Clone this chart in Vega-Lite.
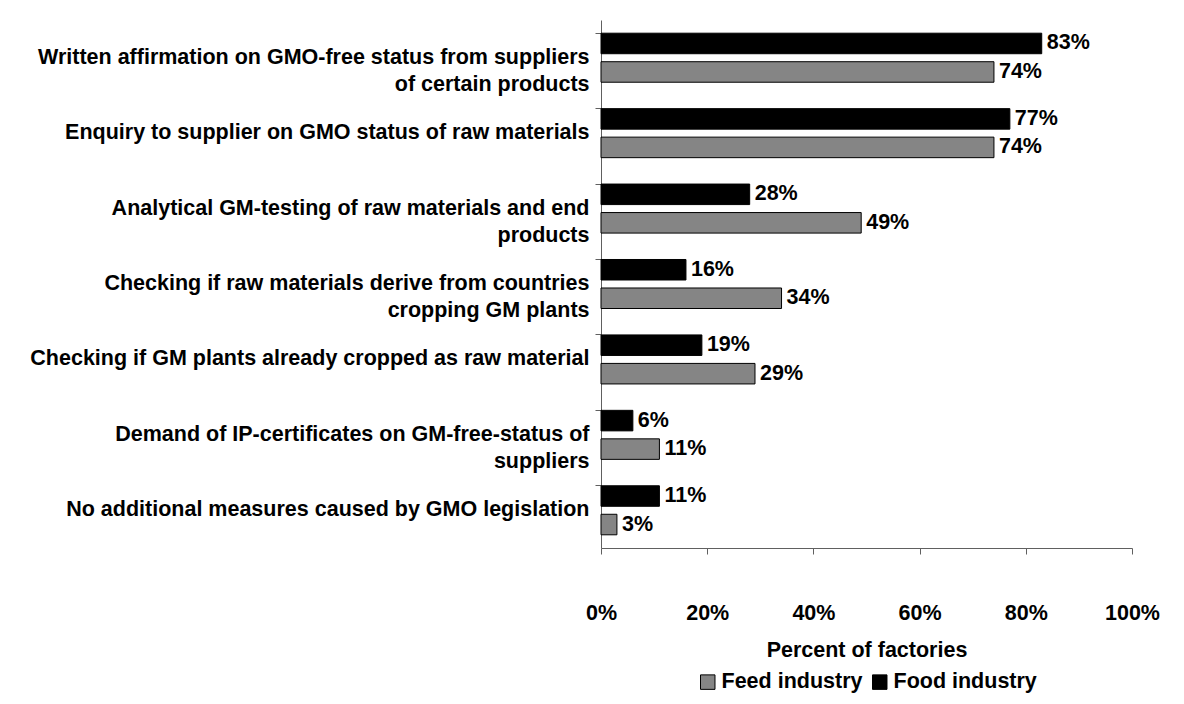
{
  "$schema": "https://vega.github.io/schema/vega-lite/v6.json",
  "width": 531,
  "height": 528,
  "padding": {"left": 29, "top": 20, "right": 40, "bottom": 10},
  "background": "white",
  "config": {
    "font": "Liberation Sans",
    "view": {"stroke": null},
    "axis": {"grid": false, "domainColor": "#606060", "tickColor": "#606060", "labelColor": "black", "titleColor": "black"}
  },
  "data": {
    "values": [
      {"cat": "Written affirmation on GMO-free status from suppliers|of certain products", "ind": "Food industry", "v": 83},
      {"cat": "Written affirmation on GMO-free status from suppliers|of certain products", "ind": "Feed industry", "v": 74},
      {"cat": "Enquiry to supplier on GMO status of raw materials", "ind": "Food industry", "v": 77},
      {"cat": "Enquiry to supplier on GMO status of raw materials", "ind": "Feed industry", "v": 74},
      {"cat": "Analytical GM-testing of raw materials and end|products", "ind": "Food industry", "v": 28},
      {"cat": "Analytical GM-testing of raw materials and end|products", "ind": "Feed industry", "v": 49},
      {"cat": "Checking if raw materials derive from countries|cropping GM plants", "ind": "Food industry", "v": 16},
      {"cat": "Checking if raw materials derive from countries|cropping GM plants", "ind": "Feed industry", "v": 34},
      {"cat": "Checking if GM plants already cropped as raw material", "ind": "Food industry", "v": 19},
      {"cat": "Checking if GM plants already cropped as raw material", "ind": "Feed industry", "v": 29},
      {"cat": "Demand of IP-certificates on GM-free-status of|suppliers", "ind": "Food industry", "v": 6},
      {"cat": "Demand of IP-certificates on GM-free-status of|suppliers", "ind": "Feed industry", "v": 11},
      {"cat": "No additional measures caused by GMO legislation", "ind": "Food industry", "v": 11},
      {"cat": "No additional measures caused by GMO legislation", "ind": "Feed industry", "v": 3}
    ]
  },
  "encoding": {
    "y": {
      "field": "cat", "type": "nominal", "sort": null, "title": null,
      "scale": {"paddingInner": 0.35, "paddingOuter": 0.175},
      "axis": {
        "labelExpr": "split(datum.value, '|')",
        "labelFont": "Liberation Sans", "labelFontSize": 21.5, "labelFontWeight": "bold",
        "labelLineHeight": 27, "labelPadding": 6, "tickSize": 6, "bandPosition": 0,
        "labelLimit": 800
      }
    },
    "yOffset": {"field": "ind", "type": "nominal", "sort": ["Food industry", "Feed industry"], "scale": {"paddingInner": 0.28}},
    "x": {
      "field": "v", "type": "quantitative",
      "scale": {"domain": [0, 100]},
      "title": "Percent of factories",
      "axis": {
        "values": [0, 20, 40, 60, 80, 100],
        "labelExpr": "datum.value + '%'",
        "labelFlush": false,
        "labelFontSize": 21.5, "labelFontWeight": "bold",
        "tickSize": 6, "labelPadding": 48,
        "titleFontSize": 21.5, "titleFontWeight": "bold", "titlePadding": 16
      }
    }
  },
  "layer": [
    {
      "mark": {"type": "bar", "stroke": "black", "strokeWidth": 1},
      "encoding": {
        "fill": {
          "field": "ind", "type": "nominal",
          "scale": {"domain": ["Feed industry", "Food industry"], "range": ["#858585", "black"]},
          "legend": {
            "title": null, "orient": "none", "direction": "horizontal",
            "legendX": 96, "legendY": 651,
            "symbolType": "square", "symbolSize": 210, "symbolStrokeColor": "black", "symbolStrokeWidth": 1,
            "labelFontSize": 21.5, "labelFontWeight": "bold", "labelFont": "Liberation Sans",
            "labelOffset": 3, "columnPadding": 6, "labelLimit": 300
          }
        }
      }
    },
    {
      "mark": {"type": "text", "align": "left", "baseline": "middle", "dx": 5, "fontSize": 21.5, "fontWeight": "bold", "font": "Liberation Sans"},
      "encoding": {
        "text": {"value": {"expr": "datum.v + '%'"}}
      }
    }
  ]
}
